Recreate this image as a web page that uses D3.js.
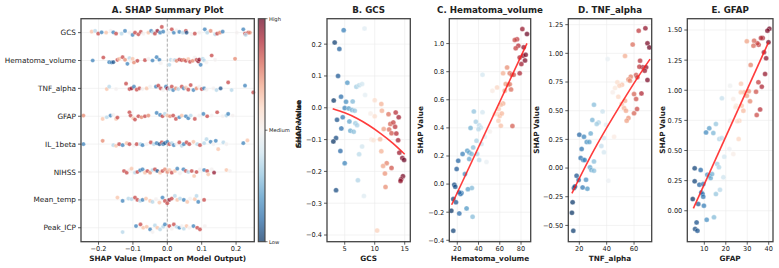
<!DOCTYPE html>
<html><head><meta charset="utf-8">
<script src="https://cdn.jsdelivr.net/npm/d3@7"></script>
<style>body{margin:0;background:#fff} svg{display:block} text{font-family:"DejaVu Sans",sans-serif;fill:#222}</style>
</head><body><svg id="c" width="779" height="268"></svg>
<script>
// ---------- DATA ----------
const features = ["GCS","Hematoma_volume","TNF_alpha","GFAP","IL_1beta","NIHSS","Mean_temp","Peak_ICP"];
const shapTicks = [-0.2,-0.1,0.0,0.1,0.2];
const colorbarLabels = ["Low","Medium","High"];
// summary rows: [shap value, normalized feature value, vertical jitter]
const sumGCS = [[-0.220,0.65,-1],[-0.210,0.35,-1.7],[-0.201,0.85,1],[-0.191,0.15,-0.3],[-0.178,0.65,0],[-0.165,0.5,-1.7],[-0.157,0.15,-0.3],[-0.149,0.85,1],[-0.133,0.35,1],[-0.123,0.15,-1.7],[-0.110,0.5,0],[-0.101,0.15,2.3],[-0.094,0.85,0],[-0.084,0.85,1.7],[-0.077,0.85,-0.7],[-0.070,0.5,1],[-0.055,0.65,0],[-0.047,0.15,-1.7],[-0.041,0.35,0],[-0.036,0.85,1],[-0.029,0.95,-1.7],[-0.021,0.15,0],[-0.016,0.85,-5.7],[-0.012,0.15,-1],[0.003,0.5,0],[0.013,0.85,-3.3],[0.019,0.15,0],[0.027,0.5,-2.3],[0.035,0.15,-0.7],[0.045,0.35,0],[0.054,0.85,-1.7],[0.056,0.05,0],[0.071,0.5,1.7],[0.080,0.85,1],[0.093,0.5,0],[0.109,0.15,-3.3],[0.116,0.35,0],[0.126,0.75,-1.7],[0.139,0.35,1.7],[0.145,0.85,1],[0.153,0.75,0],[0.161,0.15,-1],[0.202,0.5,0],[0.221,0.15,-3.3],[0.226,0.85,1],[0.235,0.85,0],[0.240,0.75,0],[0.228,0.35,2.3]];
const sumHema = [[-0.217,0.15,0],[-0.186,0.85,-3],[-0.169,0.15,1.7],[-0.162,0.15,2],[-0.157,0.05,1.7],[-0.145,0.85,-0.7],[-0.140,0.65,-1.7],[-0.130,0.85,-3.3],[-0.123,0.75,-0.7],[-0.116,0.15,3.3],[-0.110,0.35,-2.3],[-0.107,0.5,0.3],[-0.101,0.65,-1.7],[-0.097,0.75,2],[-0.087,0.85,0.3],[-0.065,0.85,-0.3],[-0.055,0.5,-1.7],[-0.043,0.15,0],[-0.031,0.15,-3.3],[-0.023,0.15,-0.7],[-0.019,0.5,2.7],[0.006,0.35,4.3],[0.010,0.35,-0.7],[0.017,0.5,0],[0.022,0.35,-0.5],[0.027,0.75,0.3],[0.035,0.85,-1],[0.042,0.85,-0.3],[0.048,0.75,-0.7],[0.054,0.85,0.3],[0.061,0.65,-1.3],[0.066,0.85,1.3],[0.074,0.75,0.3],[0.080,0.5,-3],[0.085,0.85,-0.7],[0.090,0.95,1],[0.093,0.95,-1],[0.097,0.15,4.3],[0.103,0.35,-1.7],[0.107,0.35,0],[0.114,0.5,2],[0.129,0.85,-5],[0.139,0.5,-0.7],[0.197,0.75,-1.7]];
const sumTNF = [[-0.176,0.65,0.7],[-0.169,0.35,-1.7],[-0.149,0.5,0.7],[-0.120,0.85,-4.7],[-0.110,0.85,0.7],[-0.104,0.95,0],[-0.097,0.15,-1.7],[-0.089,0.85,1.3],[-0.081,0.85,0],[-0.072,0.5,0.7],[-0.060,0.65,0],[-0.050,0.5,-1.7],[-0.033,0.15,-1.7],[-0.026,0.85,-2.7],[-0.019,0.85,0],[-0.012,0.5,1.7],[-0.004,0.15,-1.7],[0.000,0.95,0],[0.006,0.35,0.7],[0.013,0.85,-1.7],[0.017,0.15,1.7],[0.025,0.75,0],[0.032,0.35,0.7],[0.042,0.85,-1.7],[0.048,0.15,0],[0.054,0.65,-0.7],[0.061,0.85,1.3],[0.068,0.85,-3.3],[0.076,0.15,1.7],[0.085,0.75,0],[0.093,0.5,-1.7],[0.100,0.85,0.7],[0.107,0.15,0],[0.114,0.5,1.3],[0.134,0.5,0],[0.143,0.35,1.7],[0.155,0.05,0],[0.177,0.85,-6],[0.187,0.35,1.7],[0.226,0.15,-2.7],[0.250,0.85,4]];
const sumGFAP = [[-0.244,0.75,-0.7],[-0.188,0.65,2.7],[-0.176,0.35,1],[-0.165,0.15,-0.7],[-0.157,0.5,-1.3],[-0.149,0.65,2.7],[-0.145,0.85,1.3],[-0.110,0.85,-4],[-0.107,0.85,-0.7],[-0.099,0.65,2],[-0.094,0.85,3.3],[-0.084,0.85,0],[-0.075,0.75,1],[-0.065,0.85,0],[-0.055,0.75,-0.7],[-0.031,0.15,-3.3],[-0.021,0.15,-1.3],[-0.014,0.85,0],[-0.007,0.35,-2.3],[0.000,0.65,-0.7],[0.008,0.75,0],[0.017,0.85,-0.7],[0.025,0.85,2.7],[0.035,0.15,1],[0.042,0.65,-0.7],[0.054,0.15,0],[0.061,0.15,2],[0.068,0.35,-0.7],[0.080,0.85,2.7],[0.093,0.5,-0.7],[0.105,0.15,-2.3],[0.116,0.85,0],[0.129,0.5,-0.7],[0.145,0.85,-4],[0.161,0.5,0],[0.172,0.35,-0.7],[0.177,0.15,-2.3],[0.190,0.5,-0.7]];
const sumIL = [[-0.244,0.15,0],[-0.188,0.75,-3.3],[-0.157,0.35,1],[-0.149,0.65,1.7],[-0.140,0.85,0],[-0.130,0.15,1],[-0.118,0.65,-1],[-0.110,0.85,0],[-0.097,0.5,1.7],[-0.089,0.85,0],[-0.078,0.35,0],[-0.072,0.15,1],[-0.060,0.5,0],[-0.048,0.85,-1.7],[-0.039,0.35,0],[-0.031,0.15,-1],[-0.023,0.05,0],[-0.016,0.85,-1.7],[-0.012,0.15,0],[-0.007,0.05,-1],[0.000,0.15,-2.3],[0.006,0.85,0],[0.013,0.35,-1],[0.019,0.15,1],[0.027,0.5,0],[0.035,0.85,-1.7],[0.042,0.35,1.7],[0.048,0.15,0],[0.056,0.85,-1.7],[0.064,0.85,0],[0.076,0.65,-2.3],[0.087,0.35,0],[0.095,0.85,1],[0.107,0.35,-1],[0.114,0.35,-5],[0.126,0.15,-2.3],[0.134,0.5,0],[0.141,0.15,-3.3],[0.148,0.65,5],[0.163,0.35,-1.7],[0.172,0.5,0],[0.221,0.15,-1],[0.233,0.65,-3.7]];
const sumNIHSS = [[-0.126,0.85,-1],[-0.118,0.85,0.7],[-0.110,0.5,-2],[-0.104,0.65,-3.3],[-0.094,0.35,0.7],[-0.087,0.85,0],[-0.079,0.15,-1.7],[-0.072,0.15,-2.7],[-0.065,0.65,0.7],[-0.058,0.85,-1],[-0.050,0.75,0.7],[-0.043,0.35,-2],[-0.036,0.85,-2.7],[-0.029,0.05,-1],[-0.021,0.65,0.7],[-0.014,0.85,-1],[-0.007,0.75,-2.7],[0.000,0.75,0],[0.006,0.65,-2],[0.013,0.85,0.7],[0.022,0.65,-1],[0.029,0.15,-3.3],[0.037,0.5,1.3],[0.047,0.15,-2.7],[0.054,0.85,-1],[0.061,0.35,0],[0.071,0.85,-1],[0.078,0.65,4],[0.085,0.85,0],[0.095,0.5,-2.7],[0.107,0.15,-2],[0.116,0.85,-1],[0.119,0.65,2.3],[0.129,0.5,-2.7],[0.136,0.95,0.7],[0.172,0.65,-2],[0.182,0.5,-1]];
const sumTemp = [[-0.145,0.65,-2.3],[-0.130,0.15,1],[-0.113,0.35,-1.3],[-0.104,0.35,-0.7],[-0.094,0.85,-2.3],[-0.087,0.85,0],[-0.079,0.35,1],[-0.072,0.15,0],[-0.062,0.65,-1.3],[-0.050,0.65,1],[-0.043,0.35,2],[-0.033,0.5,-0.7],[-0.023,0.65,2.7],[-0.014,0.15,-2.3],[-0.007,0.85,1],[0.000,0.85,3.3],[0.006,0.95,0],[0.013,0.85,-1.3],[0.022,0.35,-4],[0.029,0.65,0],[0.037,0.35,-1.3],[0.048,0.15,0],[0.058,0.65,2],[0.066,0.5,-1.3],[0.080,0.65,-0.7],[0.085,0.35,-4],[0.090,0.15,2],[0.107,0.85,0]];
const sumICP = [[-0.130,0.35,4.3],[-0.091,0.15,-1.7],[-0.078,0.85,-3.3],[-0.070,0.65,0],[-0.060,0.65,-1],[-0.050,0.15,1.7],[-0.043,0.5,4.3],[-0.036,0.35,-2.3],[-0.029,0.65,0],[-0.021,0.35,1.7],[-0.012,0.35,-1],[-0.007,0.15,-3.3],[0.000,0.5,0],[0.006,0.85,-1.7],[0.013,0.5,1],[0.019,0.85,-3.3],[0.027,0.35,-1],[0.035,0.15,0],[0.042,0.5,-1.7],[0.048,0.35,1],[0.056,0.65,-1.7],[0.064,0.5,0],[0.076,0.15,-1.7],[0.087,0.85,0],[0.095,0.85,1.7],[0.109,0.5,-1.7]];
const summaryRows = [sumGCS,sumHema,sumTNF,sumGFAP,sumIL,sumNIHSS,sumTemp,sumICP];

// dependence scatter data
const gcsX = [4.83,3.33,4.11,3.89,5.44,4.39,3.17,5.22,6.33,5.0,5.67,6.22,6.67,4.67,3.72,5.78,6.78,7.06,4.44,5.94,6.5,3.56,3.11,4.28,5.0,3.56,7.2,7.9,7.4,8.2,8.3,6.94,7.4,7.9,8.4,10,11.1,9.3,10,11.2,12.3,13.5,11.5,12.6,13.1,13.4,12.4,14,12.8,13.6,9.44,9.8,10.9,13.9,11.1,14.1,14.6,14.9,12,12.8,11.4,11.7,11.8,14.7,14.4,14.3,10.4];
const gcsY = [0.244,0.205,0.185,0.100,0.079,0.035,0.023,0.019,0.020,-0.001,-0.002,-0.007,-0.009,-0.030,-0.038,-0.043,-0.049,-0.055,-0.065,-0.072,-0.075,-0.095,-0.106,-0.136,-0.174,-0.259,-0.228,-0.122,-0.146,-0.277,0.249,0.066,0.071,0.075,0.040,0.024,0.012,-0.018,-0.027,-0.009,-0.020,-0.015,-0.067,-0.051,-0.046,-0.060,-0.068,-0.030,-0.080,-0.081,-0.100,-0.102,-0.099,-0.102,-0.137,-0.141,-0.158,-0.164,-0.174,-0.189,-0.183,-0.207,-0.249,-0.215,-0.225,-0.230,-0.386];
const hemX = [81.25,85.6,76.25,74.1,77.5,75,82.5,78.75,81.9,84.4,80.3,83.75,78.75,66.9,63.1,69.4,71.25,73.1,65.6,67.8,69.4,70.6,64.7,57.5,53.1,43.75,63.1,61,59,57.5,55.3,60,61.9,58.75,61,71.9,50.6,35.6,43.75,37.5,40.6,42.2,40,32.5,45.9,38.1,42.8,35,29.4,31.25,33.4,25,38.75,20.9,31.25,40.6,47.5,19.4,27.2,17.2,18.1,24,23,21.9,16.25,33.75,30,18.75,14.4,21.9,28.75,34.4,16.25];
const hemY = [1.103,1.068,1.03,1.025,0.985,0.966,0.973,0.90,0.913,0.92,0.854,0.88,0.788,0.83,0.788,0.788,0.778,0.778,0.712,0.707,0.71,0.674,0.664,0.688,0.664,0.778,0.574,0.565,0.534,0.498,0.498,0.484,0.503,0.451,0.415,0.413,0.375,0.517,0.512,0.444,0.418,0.403,0.391,0.399,0.337,0.308,0.285,0.261,0.237,0.225,0.214,0.214,0.214,0.166,0.178,0.171,0.157,0.107,0.071,-0.005,-0.019,-0.064,-0.071,-0.059,-0.107,-0.028,-0.036,-0.13,-0.19,-0.209,-0.173,-0.233,-0.332];
const tnfX = [68.3,63.4,69.8,71.2,59,53.4,64.4,66.3,63.9,68.8,67.8,69.8,61.5,62.4,57.6,55.9,57,51.2,47.8,49.3,46.1,44.4,65.4,60,61.5,53.4,52.7,54.1,60,62.2,51,48.5,55.9,54.6,45.4,40.7,30.7,37,34.1,32.7,29.5,39.5,38,36.1,38,41.2,20,23.4,25.4,27.3,28.3,21.7,21,22.9,23.9,27.8,30.7,28.8,30.7,18,19.5,24.9,25.9,22.4,16.1,16.8,15.1,14.6,15.6];
const tnfY = [1.218,1.198,1.087,1.052,1.076,0.977,0.936,0.878,0.884,0.878,0.849,0.767,0.811,0.791,0.797,0.773,0.762,0.727,0.747,0.718,0.698,0.66,0.651,0.645,0.602,0.587,0.523,0.50,0.477,0.515,0.558,0.622,0.436,0.413,0.273,0.95,0.552,0.494,0.398,0.384,0.419,0.378,0.262,0.192,0.137,-0.11,0.291,0.273,0.227,0.227,0.302,0.166,0.087,0.07,0.07,0.006,0.058,-0.017,-0.023,-0.067,-0.105,-0.102,-0.18,-0.169,-0.174,-0.16,-0.299,-0.39,-0.547];
const gfapX = [40.3,39.4,39.9,37.2,36.4,35.3,34.7,33.2,32.9,29.8,37.8,38.8,38.3,31.6,35.2,36.8,34.1,30.7,29.8,31.3,27.1,28.5,27,27.4,28.2,24.8,26.3,24.5,36,34.4,22,18.2,23.5,26,25.4,15.4,12.3,10.8,14.2,17,18.1,22,21.7,19.3,23.5,16,16.8,18.9,5.5,8.3,5.5,7.7,8.6,9.2,9.5,9.5,11.4,12.3,12.95,13.6,15.4,17.3,4.6,7.2,9.8,11.1,14.5,6.4,5.7,6.8];
const gfapY = [1.511,1.495,1.398,1.434,1.434,1.378,1.39,1.412,1.37,1.406,1.315,1.265,1.135,1.21,1.066,1.03,0.988,0.991,0.955,0.908,1.055,0.983,0.983,0.872,0.83,0.872,0.747,0.858,0.841,0.794,1.038,0.933,0.927,0.595,0.742,0.72,0.684,0.65,0.645,0.595,0.603,0.747,0.512,0.448,0.47,0.388,0.36,0.277,0.352,0.338,0.244,0.216,0.152,0.138,0.116,0.221,0.299,0.291,0.271,0.304,0.138,0.174,0.097,0.055,0.042,-0.075,-0.055,-0.097,-0.152,-0.166];
// fitted trend lines
const trendBX = [3,5,7,9,11,13,15], trendBY = [-0.003,-0.016,-0.033,-0.055,-0.081,-0.111,-0.146];
const trendCX = [14.7,85.6], trendCY = [-0.147,1.001];
const trendDX = [14.6,30,45,60,71.7], trendDY = [-0.22,0.14,0.45,0.74,0.95];
const trendEX = [4.9,39.9], trendEY = [0.019,1.398];
// tick labels
const ticksB = {x:[5,10,15], y:[-0.4,-0.3,-0.2,-0.1,0,0.1,0.2]};
const ticksC = {x:[20,40,60,80], y:[-0.4,-0.2,0,0.2,0.4,0.6,0.8,1.0]};
const ticksD = {x:[20,40,60], y:[-0.5,-0.25,0,0.25,0.5,0.75,1.0,1.25]};
const ticksE = {x:[10,20,30,40], y:[0,0.25,0.5,0.75,1.0,1.25,1.5]};

// ---------- DRAW ----------
const svg = d3.select("#c");
const TOP = 18.7, BOT = 241.7;
const FRAME = "#444", GRID = "#ebebeb";
const cmap = t => d3.interpolateRdBu(1 - t);
const ALPHA = 0.72;
const TICKFS = 6.6, LABFS = 7.3, TITLEFS = 8.7;
const minus = s => s.replace("-", "\u2212");

function frame(g, x0, x1){
  g.append("rect").attr("x",x0).attr("y",TOP).attr("width",x1-x0).attr("height",BOT-TOP)
    .attr("fill","none").attr("stroke",FRAME).attr("stroke-width",1.3);
}
function title(txt, cx){
  svg.append("text").attr("x",cx).attr("y",12.5).attr("text-anchor","middle")
    .attr("font-size",TITLEFS).attr("font-weight","bold").text(txt);
}
function xLabel(txt, cx){
  svg.append("text").attr("x",cx).attr("y",261).attr("text-anchor","middle").attr("font-size",LABFS).attr("font-weight","bold").text(txt);
}
function xTicks(g, x, vals, fmt){
  vals.forEach(v=>{
    const px = x(v);
    g.append("line").attr("x1",px).attr("x2",px).attr("y1",BOT).attr("y2",BOT+3).attr("stroke","#333").attr("stroke-width",0.8);
    g.append("text").attr("x",px).attr("y",BOT+9.5).attr("text-anchor","middle").attr("font-size",TICKFS).attr("fill","#333").text(minus(fmt(v)));
  });
}
function yTicks(g, y, x0, vals, fmt){
  vals.forEach(v=>{
    const py = y(v);
    g.append("line").attr("x1",x0-3).attr("x2",x0).attr("y1",py).attr("y2",py).attr("stroke","#333").attr("stroke-width",0.8);
    g.append("text").attr("x",x0-5).attr("y",py+2.4).attr("text-anchor","end").attr("font-size",TICKFS).attr("fill","#333").text(minus(fmt(v)));
  });
}

// ---- Panel A ----
(function(){
  const x0=81, x1=254.3;
  const x = d3.scaleLinear().domain([-0.251,0.253]).range([x0,x1]);
  const y = d3.scaleBand().domain(features).range([TOP,BOT]);
  const g = svg.append("g");
  shapTicks.forEach(v=>g.append("line").attr("x1",x(v)).attr("x2",x(v)).attr("y1",TOP).attr("y2",BOT).attr("stroke",GRID).attr("stroke-width",0.6));
  features.forEach(f=>g.append("line").attr("x1",x0).attr("x2",x1).attr("y1",y(f)+y.bandwidth()/2).attr("y2",y(f)+y.bandwidth()/2).attr("stroke",GRID).attr("stroke-width",0.6));
  g.append("line").attr("x1",x(0)).attr("x2",x(0)).attr("y1",TOP).attr("y2",BOT).attr("stroke","#999").attr("stroke-width",0.8).attr("stroke-dasharray","3,2");
  summaryRows.forEach((rows,i)=>{
    const cy = y(features[i]) + y.bandwidth()/2;
    g.selectAll(null).data(rows).enter().append("circle")
      .attr("cx",d=>x(d[0])).attr("cy",d=>cy+d[2]).attr("r",2.1)
      .attr("fill",d=>cmap(d[1])).attr("fill-opacity",ALPHA)
      .attr("stroke","#fff").attr("stroke-width",0.3);
  });
  frame(g,x0,x1);
  xTicks(g,x,shapTicks,d3.format(".1f"));
  features.forEach(f=>{
    const cy = y(f)+y.bandwidth()/2;
    g.append("line").attr("x1",x0-3).attr("x2",x0).attr("y1",cy).attr("y2",cy).attr("stroke","#333").attr("stroke-width",0.8);
    g.append("text").attr("x",x0-5).attr("y",cy+2.6).attr("text-anchor","end").attr("font-size",LABFS).attr("fill","#333").text(f);
  });
  title("A. SHAP Summary Plot",(x0+x1)/2);
  xLabel("SHAP Value (Impact on Model Output)",(x0+x1)/2);
  // colorbar
  const cbx0=258.3, cbx1=265;
  const defs = svg.append("defs");
  const grad = defs.append("linearGradient").attr("id","cb").attr("x1",0).attr("y1",1).attr("x2",0).attr("y2",0);
  d3.range(0,1.0001,0.1).forEach(t=>grad.append("stop").attr("offset",t).attr("stop-color",cmap(t)).attr("stop-opacity",ALPHA));
  svg.append("rect").attr("x",cbx0).attr("y",TOP).attr("width",cbx1-cbx0).attr("height",BOT-TOP).attr("fill","url(#cb)").attr("stroke",FRAME).attr("stroke-width",1.1);
  const cy = d3.scalePoint().domain(colorbarLabels).range([BOT,TOP]);
  colorbarLabels.forEach(l=>{
    svg.append("line").attr("x1",cbx1).attr("x2",cbx1+2.5).attr("y1",cy(l)).attr("y2",cy(l)).attr("stroke","#333").attr("stroke-width",0.7);
    svg.append("text").attr("x",cbx1+4).attr("y",cy(l)+1.8).attr("font-size",5.2).attr("fill","#333").text(l);
  });
  svg.append("text").attr("transform","translate(300.6,124) rotate(-90)").attr("text-anchor","middle").attr("font-size",6.2).attr("font-weight","bold").text("Feature Value");
})();

// ---- dependence panels ----
function dep(cfg){
  const {x0,x1,xd,yd,xs,ys,tx,ty,ticks,fmtY,ttl,xlab,ylabX,ylabY} = cfg;
  const x = d3.scaleLinear().domain(xd).range([x0,x1]);
  const y = d3.scaleLinear().domain(yd).range([BOT,TOP]);
  const g = svg.append("g");
  ticks.x.forEach(v=>g.append("line").attr("x1",x(v)).attr("x2",x(v)).attr("y1",TOP).attr("y2",BOT).attr("stroke",GRID).attr("stroke-width",0.6));
  ticks.y.forEach(v=>g.append("line").attr("x1",x0).attr("x2",x1).attr("y1",y(v)).attr("y2",y(v)).attr("stroke",GRID).attr("stroke-width",0.6));
  const data = xs.map((v,i)=>[v,ys[i]]);
  const cs = d3.scaleLinear().domain(d3.extent(xs)).range([0,1]);
  g.selectAll(null).data(data).enter().append("circle")
    .attr("cx",d=>x(d[0])).attr("cy",d=>y(d[1])).attr("r",2.5)
    .attr("fill",d=>cmap(cs(d[0]))).attr("fill-opacity",ALPHA)
    .attr("stroke","#fff").attr("stroke-width",0.3);
  const line = d3.line().x(d=>x(d[0])).y(d=>y(d[1])).curve(d3.curveNatural);
  g.append("path").attr("d",line(tx.map((v,i)=>[v,ty[i]]))).attr("fill","none").attr("stroke","#ff1a1a").attr("stroke-opacity",0.85).attr("stroke-width",1.6);
  frame(g,x0,x1);
  xTicks(g,x,ticks.x,d3.format("d"));
  yTicks(g,y,x0,ticks.y,fmtY);
  title(ttl,(x0+x1)/2);
  xLabel(xlab,(x0+x1)/2);
  svg.append("text").attr("transform",`translate(${ylabX},${ylabY}) rotate(-90)`).attr("text-anchor","middle").attr("font-size",LABFS).attr("font-weight","bold").text("SHAP Value");
}
dep({x0:327,x1:410.3,xd:[2.05,15.93],yd:[-0.421,0.280],xs:gcsX,ys:gcsY,tx:trendBX,ty:trendBY,ticks:ticksB,fmtY:d3.format(".1f"),ttl:"B. GCS",xlab:"GCS",ylabX:300.6,ylabY:124});
dep({x0:449.3,x1:530.7,xd:[12.5,89.1],yd:[-0.410,1.177],xs:hemX,ys:hemY,tx:trendCX,ty:trendCY,ticks:ticksC,fmtY:d3.format(".1f"),ttl:"C. Hematoma_volume",xlab:"Hematoma_volume",ylabX:422.6,ylabY:130});
dep({x0:568.3,x1:651.7,xd:[11.95,72.9],yd:[-0.642,1.302],xs:tnfX,ys:tnfY,tx:trendDX,ty:trendDY,ticks:ticksD,fmtY:d3.format(".2f"),ttl:"D. TNF_alpha",xlab:"TNF_alpha",ylabX:539.3,ylabY:130});
dep({x0:687.3,x1:773,xd:[2.07,42.0],yd:[-0.257,1.594],xs:gfapX,ys:gfapY,tx:trendEX,ty:trendEY,ticks:ticksE,fmtY:d3.format(".2f"),ttl:"E. GFAP",xlab:"GFAP",ylabX:665.3,ylabY:130});
</script></body></html>
